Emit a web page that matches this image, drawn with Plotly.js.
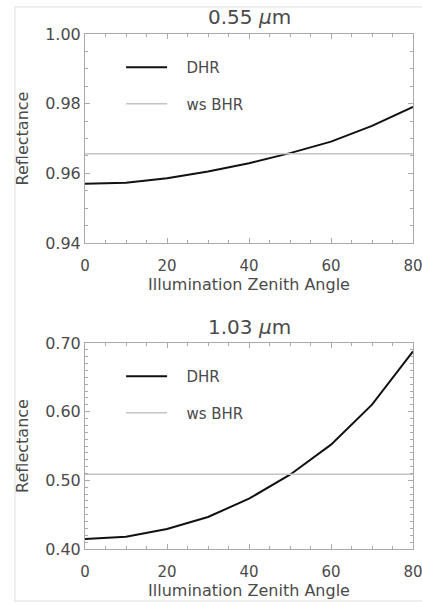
<!DOCTYPE html>
<html>
<head>
<meta charset="utf-8">
<script src="https://cdn.plot.ly/plotly-3.0.1.min.js"></script>
<style>html,body{margin:0;padding:0;background:#fff;}</style>
</head>
<body>
<div id="chart" style="width:422px;height:603px;"></div>
<script>
// Illumination zenith angle (degrees)
const angles = [0, 10, 20, 30, 40, 50, 60, 70, 80];
// 0.55 um
const dhr055 = [0.9570, 0.9573, 0.9586, 0.9605, 0.9629, 0.9658, 0.9691, 0.9736, 0.9791];
const bhr055 = 0.9656;
// 1.03 um
const dhr103 = [0.4146, 0.4180, 0.4291, 0.4466, 0.4733, 0.5082, 0.5520, 0.6102, 0.6878];
const bhr103 = 0.5090;

const titles = ['0.55 <i>\u03bc</i>m', '1.03 <i>\u03bc</i>m'];
const seriesNames = ['DHR', 'ws BHR'];

const FONT = 'DejaVu Sans, sans-serif';
const TXT = '#4a4a4a';
const AX = '#aaa';
const DHRC = '#111';
const BHRC = '#c4c4c4';
const pad = '\u00a0\u00a0\u00a0';

const flat = (v) => angles.map(() => v);

const traces = [
  {x: angles, y: dhr055, xaxis: 'x', yaxis: 'y', mode: 'lines', name: pad + seriesNames[0],
   line: {color: DHRC, width: 2}, legend: 'legend', legendgroup: 'a1'},
  {x: angles, y: flat(bhr055), xaxis: 'x', yaxis: 'y', mode: 'lines', name: pad + seriesNames[1],
   line: {color: BHRC, width: 1.5}, legend: 'legend', legendgroup: 'b1'},
  {x: angles, y: dhr103, xaxis: 'x2', yaxis: 'y2', mode: 'lines', name: pad + seriesNames[0],
   line: {color: DHRC, width: 2}, legend: 'legend2', legendgroup: 'a2'},
  {x: angles, y: flat(bhr103), xaxis: 'x2', yaxis: 'y2', mode: 'lines', name: pad + seriesNames[1],
   line: {color: BHRC, width: 1.5}, legend: 'legend2', legendgroup: 'b2'}
];

function xax(anchor) {
  return {
    anchor: anchor, domain: [0, 1], range: [0, 80],
    tickvals: [0, 20, 40, 60, 80], ticks: 'inside', ticklen: 5, tickcolor: AX,
    minor: {dtick: 5, ticks: 'inside', ticklen: 3, tickcolor: AX},
    showline: true, linecolor: AX, linewidth: 1, mirror: 'allticks',
    showgrid: false, zeroline: false, ticklabeloverflow: 'allow', ticklabelstandoff: 9,
    tickfont: {family: FONT, size: 15, color: TXT},
    title: {text: 'Illumination Zenith Angle', font: {family: FONT, size: 16, color: TXT}, standoff: 0}
  };
}
function yax(anchor, domain, range, dtick, minorDtick) {
  return {
    anchor: anchor, domain: domain, range: range,
    dtick: dtick, tick0: range[0], tickformat: '.2f',
    ticks: 'inside', ticklen: 5, tickcolor: AX,
    minor: {dtick: minorDtick, ticks: 'inside', ticklen: 3, tickcolor: AX},
    showline: true, linecolor: AX, linewidth: 1, mirror: 'allticks',
    showgrid: false, zeroline: false, ticklabeloverflow: 'allow',
    tickfont: {family: FONT, size: 16, color: TXT},
    title: {text: 'Reflectance', font: {family: FONT, size: 16, color: TXT}, standoff: 12}
  };
}

const legendBase = {
  xref: 'paper', yref: 'paper', xanchor: 'left', yanchor: 'top',
  bgcolor: 'rgba(0,0,0,0)', borderwidth: 0,
  font: {family: FONT, size: 15, color: TXT},
  itemwidth: 41, traceorder: 'grouped', tracegroupgap: 14
};

const layout = {
  width: 422, height: 603,
  margin: {l: 85, r: 9, t: 34, b: 54},
  paper_bgcolor: '#fff', plot_bgcolor: '#fff',
  font: {family: FONT, color: TXT},
  showlegend: true,
  xaxis: xax('y'),
  yaxis: yax('x', [0.5942, 1], [0.94, 1.00], 0.02, 0.005),
  xaxis2: xax('y2'),
  yaxis2: yax('x2', [0, 0.4], [0.40, 0.70], 0.10, 0.01),
  legend: Object.assign({}, legendBase, {x: 0.11, y: 0.967}),
  legend2: Object.assign({}, legendBase, {x: 0.11, y: 0.367}),
  annotations: [
    {text: titles[0], xref: 'paper', yref: 'paper', x: 0.5, y: 1.0, yshift: 17,
     xanchor: 'center', yanchor: 'middle', showarrow: false,
     font: {family: FONT, size: 20, color: TXT}},
    {text: titles[1], xref: 'paper', yref: 'paper', x: 0.5, y: 0.4, yshift: 16,
     xanchor: 'center', yanchor: 'middle', showarrow: false,
     font: {family: FONT, size: 20, color: TXT}}
  ],
  shapes: [
    {type: 'rect', xref: 'paper', yref: 'paper', x0: -0.2134, x1: 1.1, y0: -0.101, y1: 1.0524,
     line: {color: '#ddd', width: 1}, fillcolor: 'rgba(0,0,0,0)', layer: 'below'}
  ]
};

Plotly.newPlot('chart', traces, layout, {displayModeBar: false, staticPlot: true});
</script>
</body>
</html>
